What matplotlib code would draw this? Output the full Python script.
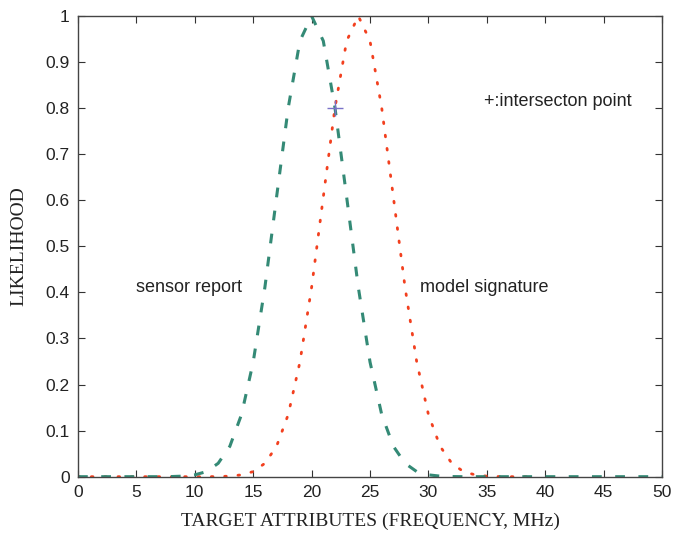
import matplotlib.pyplot as plt

freq_sensor = list(range(0, 51))
sensor_report = [0, 0, 0, 0, 0, 0, 0, 0, 0.0003, 0.0012,
                 0.004, 0.011, 0.029, 0.066, 0.135, 0.249, 0.411, 0.607, 0.801, 0.946,
                 1.0, 0.946, 0.801, 0.607, 0.411, 0.249, 0.135, 0.066, 0.029, 0.011,
                 0.004, 0.0012, 0.0003, 0, 0, 0, 0, 0, 0, 0,
                 0, 0, 0, 0, 0, 0, 0, 0, 0, 0, 0]

freq_model = list(range(0, 40))
model_signature = [0, 0, 0, 0, 0, 0, 0, 0, 0, 0,
                   0, 0, 0.0003, 0.0012, 0.004, 0.011, 0.029, 0.066, 0.135, 0.249,
                   0.411, 0.607, 0.801, 0.946, 1.0, 0.946, 0.801, 0.607, 0.411, 0.249,
                   0.135, 0.066, 0.029, 0.011, 0.004, 0.0012, 0.0003, 0, 0, 0]

intersect_x = [22]
intersect_y = [0.8]

x_ticks = list(range(0, 51, 5))
y_ticks = [0, 0.1, 0.2, 0.3, 0.4, 0.5, 0.6, 0.7, 0.8, 0.9, 1]
y_ticklabels = ["0", "0.1", "0.2", "0.3", "0.4", "0.5", "0.6", "0.7", "0.8", "0.9", "1"]

plt.rcParams['font.family'] = ['Liberation Sans', 'DejaVu Sans']

fig = plt.figure(figsize=(6.92, 5.35), dpi=100)
ax = fig.add_axes([0.1127, 0.109, 0.844, 0.861])

ax.plot(freq_model, model_signature, color='#f2401f', linewidth=2.0,
        linestyle=(0, (0.6, 4.2)), dash_capstyle='round')
ax.plot(freq_sensor, sensor_report, color='#348a76', linewidth=2.2,
        linestyle=(0, (3.2, 4.4)))
ax.plot(intersect_x, intersect_y, marker='+', color='#7a72c8', markersize=11,
        markeredgewidth=1.0, linestyle='none')

ax.text(5, 0.41, "sensor report", fontsize=13, color='#222222', va='center')
ax.text(29.3, 0.41, "model signature", fontsize=13, color='#222222', va='center')
ax.text(34.8, 0.815, "+:intersecton point", fontsize=13, color='#222222', va='center')

ax.set_xlim(0, 50)
ax.set_ylim(0, 1)
ax.set_xticks(x_ticks)
ax.set_yticks(y_ticks)
ax.set_yticklabels(y_ticklabels)
ax.tick_params(direction='in', length=5, width=0.8, top=True, right=True,
               labelsize=12.5, colors='#333333', labelcolor='#222222', pad=6)
for s in ax.spines.values():
    s.set_color('#444444')
    s.set_linewidth(1.0)

ax.set_xlabel("TARGET ATTRIBUTES (FREQUENCY, MHz)", family='Liberation Serif',
              fontsize=14, color='#222222', labelpad=9)
ax.set_ylabel("LIKELIHOOD", family='Liberation Serif', fontsize=14,
              color='#222222', labelpad=13)

fig.savefig('out.png', dpi=100)
